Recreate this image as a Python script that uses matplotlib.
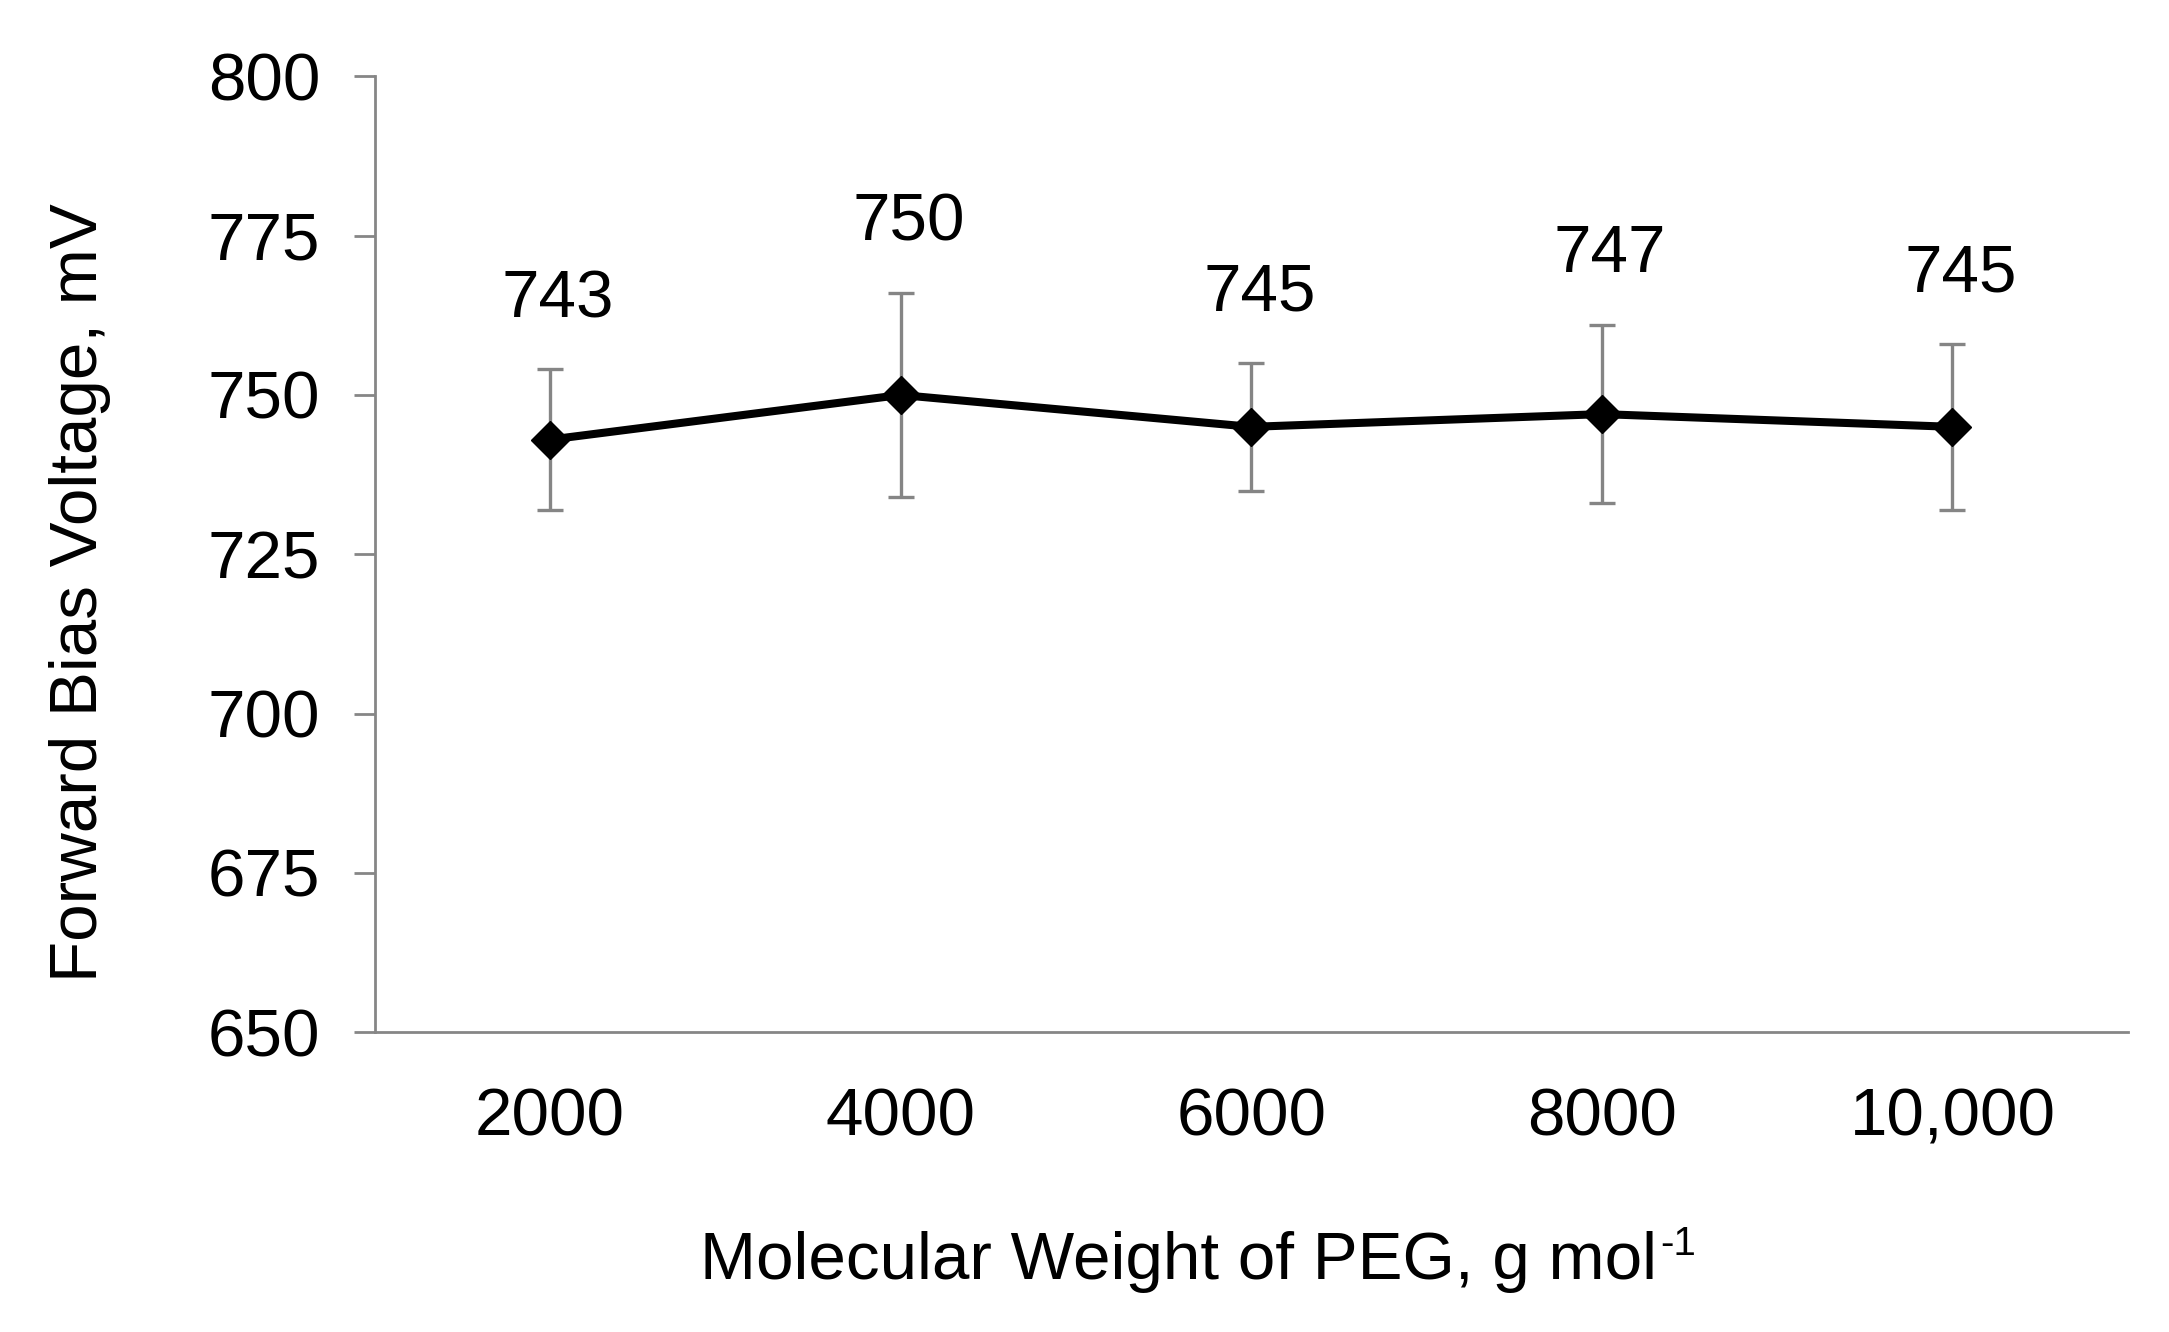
import matplotlib
matplotlib.use("Agg")
import matplotlib.pyplot as plt

plt.rcParams['font.family'] = ['Liberation Sans', 'DejaVu Sans']

categories = ["2000", "4000", "6000", "8000", "10,000"]
voltage = [743, 750, 745, 747, 745]
error = [11, 16, 10, 14, 13]
value_labels = ["743", "750", "745", "747", "745"]
yticks = [650, 675, 700, 725, 750, 775, 800]

FS = 48.5
DPI = 100

fig = plt.figure(figsize=(21.69, 13.32), dpi=DPI)
ax = fig.add_axes([0.1727, 0.225, 0.981 - 0.1727, 0.9427 - 0.225])

xpos = list(range(len(categories)))

ax.errorbar(xpos, voltage, yerr=error, fmt='none', ecolor='#858585',
            elinewidth=2.4, capsize=9.5, capthick=2.4, zorder=2)
ax.plot(xpos, voltage, color='black', linewidth=5.8, marker='D',
        markersize=19, markerfacecolor='black', markeredgecolor='black',
        solid_joinstyle='round', zorder=3)

for x, v, e, lab in zip(xpos, voltage, error, value_labels):
    ax.annotate(lab, xy=(x, v + e), xytext=(6, 50), textcoords='offset points',
                ha='center', va='center', fontsize=FS, color='black')

ax.set_xlim(-0.5, len(categories) - 0.5)
ax.set_ylim(650, 800)
ax.set_yticks(yticks)
ax.set_yticklabels([str(t) for t in yticks])
ax.set_xticks(xpos)
ax.set_xticklabels(categories)

for s in ['top', 'right']:
    ax.spines[s].set_visible(False)
for s in ['left', 'bottom']:
    ax.spines[s].set_color('#868686')
    ax.spines[s].set_linewidth(2.0)

ax.tick_params(axis='y', length=15, width=2.0, color='#868686', pad=24, labelsize=FS)
ax.tick_params(axis='x', length=0, pad=40, labelsize=FS)

fig.text(0.0371, 0.555, "Forward Bias Voltage, mV", rotation=90, ha='center', va='center', fontsize=FS)

base_y = 0.040
xl = fig.text(0.5435, base_y, "Molecular Weight of PEG, g mol", ha='center', va='baseline', fontsize=FS)
fig.canvas.draw()
bb = xl.get_window_extent(renderer=fig.canvas.get_renderer())
W, H = fig.get_size_inches() * DPI
sup_raise_pt = 0.5 * 0.716 * FS
fig.text((bb.x1 + 3) / W, base_y + sup_raise_pt * DPI / 72.0 / H, "-1",
         ha='left', va='baseline', fontsize=29)

fig.savefig("out.png", dpi=DPI)
